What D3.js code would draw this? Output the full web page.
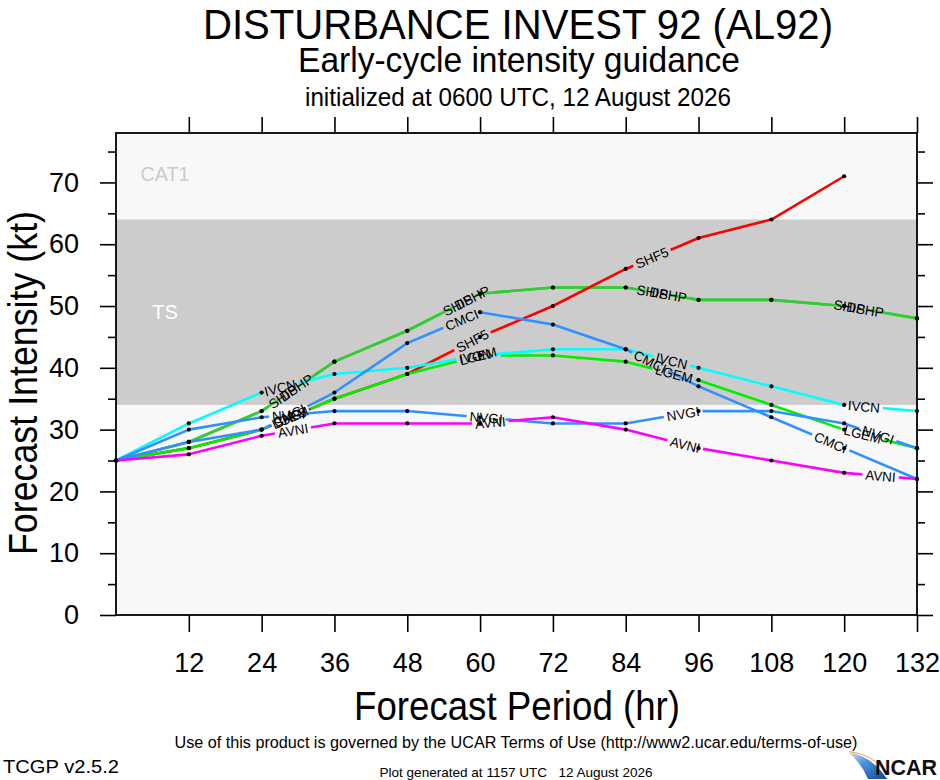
<!DOCTYPE html>
<html>
<head>
<meta charset="utf-8">
<script src="https://cdn.jsdelivr.net/npm/d3@7"></script>
<style>
  html, body { margin: 0; padding: 0; background: #fff; }
  svg { display: block; font-family: "Liberation Sans", Arial, Helvetica, sans-serif; }
</style>
</head>
<body>
<svg id="chart" width="940" height="780"></svg>
<script>
// forecast hours and model intensities (kt)
const hours = [0, 12, 24, 36, 48, 60, 72, 84, 96, 108, 120, 132];
const models = ["SHIP", "DSHP", "SHF5", "LGEM", "IVCN", "CMCI", "NVGI", "AVNI"];
const shipValues = [25, 28, 33, 41, 46, 52, 53, 53, 51, 51, 50, 48];
const dshpValues = [25, 28, 33, 41, 46, 52, 53, 53, 51, 51, 50, 48];
const shf5Values = [25, 27, 30, 35, 39, 45, 50, 56, 61, 64, 71, null];
const lgemValues = [25, 27, 30, 35, 39, 42, 42, 41, 38, 34, 30, 27];
const ivcnValues = [25, 31, 36, 39, 40, 42, 43, 43, 40, 37, 34, 33];
const cmciValues = [25, 28, 30, 36, 44, 49, 47, 43, 37, 32, 27, 22];
const nvgiValues = [25, 30, 32, 33, 33, 32, 31, 31, 33, 33, 31, 27];
const avniValues = [25, 26, 29, 31, 31, 31, 32, 30, 27, 25, 23, 22];

const xTicks = [12, 24, 36, 48, 60, 72, 84, 96, 108, 120, 132];
const yTicks = [0, 10, 20, 30, 40, 50, 60, 70];
const yMinorTicks = [5, 15, 25, 35, 45, 55, 65, 75];

// intensity bands
const bandNames = ["TS", "CAT1"];
const bandLow = [34, 64];
const bandHigh = [64, 78];

const modelColors = {
    SHIP: "#33cc33", DSHP: "#33cc33", SHF5: "#ff0000", LGEM: "#00ee00",
    IVCN: "#00ffff", CMCI: "#3090ff", NVGI: "#3090ff", AVNI: "#ff00ff"
};
const labelStart = { SHIP: 180, DSHP: 196, SHF5: 180, LGEM: 180, IVCN: 180, CMCI: 180, NVGI: 180, AVNI: 180 };

const seriesValues = [shipValues, dshpValues, shf5Values, lgemValues, ivcnValues, cmciValues, nvgiValues, avniValues];
const series = models.map((name, i) => ({
    name: name,
    points: hours.map((h, j) => ({ h: h, v: seriesValues[i][j] })).filter((d) => d.v !== null)
}));

const svg = d3.select("#chart");
const plotLeft = 116, plotRight = 917, plotTop = 133, plotBottom = 615;

const x = d3.scaleLinear().domain([0, 132]).range([plotLeft, plotRight]);
const y = d3.scaleLinear().domain([0, 78]).range([plotBottom, plotTop]);

// titles
function addText(txt, tx, ty, size, len, opts = {}) {
    let t = svg.append("text")
        .attr("x", tx).attr("y", ty)
        .attr("font-size", size)
        .attr("text-anchor", opts.anchor || "middle")
        .attr("fill", opts.fill || "#000")
        .text(txt);
    if (len) t.attr("textLength", len).attr("lengthAdjust", "spacingAndGlyphs");
    if (opts.weight) t.attr("font-weight", opts.weight);
    return t;
}

addText("DISTURBANCE INVEST 92 (AL92)", 518, 38.5, 43, 630);
addText("Early-cycle intensity guidance", 519, 72, 35, 442);
addText("initialized at 0600 UTC, 12 August 2026", 518, 106, 26, 426);

// plot background and bands
svg.append("rect")
    .attr("x", plotLeft).attr("y", plotTop)
    .attr("width", plotRight - plotLeft).attr("height", plotBottom - plotTop)
    .attr("fill", "#f8f8f8");

svg.selectAll("rect.band")
    .data(bandNames.filter((d) => d === "TS"))
    .join("rect")
    .attr("class", "band")
    .attr("x", plotLeft)
    .attr("y", (d) => y(bandHigh[bandNames.indexOf(d)]))
    .attr("width", plotRight - plotLeft)
    .attr("height", (d) => y(bandLow[bandNames.indexOf(d)]) - y(bandHigh[bandNames.indexOf(d)]))
    .attr("fill", "#cccccc");

addText("TS", 165, y(49) + 7, 20, null, { fill: "#ffffff" });
addText("CAT1", 165, y(71.3) + 7, 20, 49, { fill: "#cccccc" });

// axes
const axisLeft = d3.axisLeft(y).tickValues(yTicks).tickSize(16).tickPadding(21).tickFormat(d3.format("d"));
const axisLeftMinor = d3.axisLeft(y).tickValues(yMinorTicks).tickSize(8).tickFormat("");
const axisRight = d3.axisRight(y).tickValues(yTicks).tickSize(16).tickFormat("");
const axisRightMinor = d3.axisRight(y).tickValues(yMinorTicks).tickSize(8).tickFormat("");
const axisBottom = d3.axisBottom(x).tickValues(xTicks).tickSize(17).tickPadding(21).tickFormat(d3.format("d"));
const axisTop = d3.axisTop(x).tickValues(xTicks).tickSize(16).tickFormat("");

function drawAxis(axis, tx, ty) {
    let g = svg.append("g").attr("transform", `translate(${tx},${ty})`).call(axis);
    g.select(".domain").remove();
    g.selectAll("line").attr("stroke", "#000").attr("stroke-width", 1.6);
    g.selectAll("text").attr("font-size", 27).attr("fill", "#000")
        .attr("font-family", "'Liberation Sans', Arial, Helvetica, sans-serif");
    return g;
}
drawAxis(axisLeft, plotLeft, 0);
drawAxis(axisLeftMinor, plotLeft, 0);
drawAxis(axisRight, plotRight, 0);
drawAxis(axisRightMinor, plotRight, 0);
drawAxis(axisBottom, 0, plotBottom);
drawAxis(axisTop, 0, plotTop);

// axis titles
svg.append("text")
    .attr("transform", `translate(37,${(plotTop + plotBottom) / 2 + 9}) rotate(-90)`)
    .attr("text-anchor", "middle")
    .attr("font-size", 40)
    .attr("textLength", 344).attr("lengthAdjust", "spacingAndGlyphs")
    .text("Forecast Intensity (kt)");
addText("Forecast Period (hr)", 517, 720, 40, 326);

// series lines with gaps for the line labels
const line = d3.line().x((d) => x(d.h)).y((d) => y(d.v));
const defs = svg.append("defs");
const lineLayer = svg.append("g");
const dotLayer = svg.append("g");
const labelLayer = svg.append("g");

const spacing = 198;

series.forEach((s, i) => {
    let pts = s.points.map((d) => [x(d.h), y(d.v)]);
    let cum = [0];
    for (let k = 1; k < pts.length; k++) {
        cum.push(cum[k - 1] + Math.hypot(pts[k][0] - pts[k - 1][0], pts[k][1] - pts[k - 1][1]));
    }
    let total = cum[cum.length - 1];

    let probe = labelLayer.append("text").attr("font-size", 13.5).text(s.name);
    let w = probe.node().getComputedTextLength();
    probe.remove();

    let mask = defs.append("mask")
        .attr("id", "mask-" + i)
        .attr("maskUnits", "userSpaceOnUse")
        .attr("x", 0).attr("y", 0).attr("width", 940).attr("height", 780);
    mask.append("rect").attr("x", 0).attr("y", 0).attr("width", 940).attr("height", 780).attr("fill", "#fff");

    for (let pos = labelStart[s.name]; pos + w / 2 + 4 < total; pos += spacing) {
        let k = 0;
        while (k < cum.length - 2 && cum[k + 1] < pos) k++;
        let t = (pos - cum[k]) / (cum[k + 1] - cum[k]);
        let px = pts[k][0] + t * (pts[k + 1][0] - pts[k][0]);
        let py = pts[k][1] + t * (pts[k + 1][1] - pts[k][1]);
        let ang = Math.atan2(pts[k + 1][1] - pts[k][1], pts[k + 1][0] - pts[k][0]) * 180 / Math.PI;

        mask.append("rect")
            .attr("x", -w / 2 - 3).attr("y", -7)
            .attr("width", w + 6).attr("height", 14)
            .attr("fill", "#000")
            .attr("transform", `translate(${px},${py}) rotate(${ang})`);

        labelLayer.append("text")
            .attr("transform", `translate(${px},${py}) rotate(${ang})`)
            .attr("text-anchor", "middle")
            .attr("dy", "0.36em")
            .attr("font-size", 13.5)
            .attr("fill", "#000")
            .text(s.name);
    }

    lineLayer.append("path")
        .datum(s.points)
        .attr("d", line)
        .attr("fill", "none")
        .attr("stroke", modelColors[s.name])
        .attr("stroke-width", 2.6)
        .attr("stroke-linejoin", "round")
        .attr("mask", `url(#mask-${i})`);

    dotLayer.selectAll(null)
        .data(s.points)
        .join("circle")
        .attr("cx", (d) => x(d.h))
        .attr("cy", (d) => y(d.v))
        .attr("r", 2.1)
        .attr("fill", "#000");
});

// frame
svg.append("rect")
    .attr("x", plotLeft).attr("y", plotTop)
    .attr("width", plotRight - plotLeft).attr("height", plotBottom - plotTop)
    .attr("fill", "none").attr("stroke", "#000").attr("stroke-width", 1.8);

// footer
addText("Use of this product is governed by the UCAR Terms of Use (http://www2.ucar.edu/terms-of-use)", 516, 748, 16, 683);
addText("TCGP v2.5.2", 3, 773, 19, 116, { anchor: "start" });
addText("Plot generated at 1157 UTC   12 August 2026", 516, 777, 13, 273).style("white-space", "pre");

// NCAR logo
const grad = defs.append("linearGradient").attr("id", "ncarGrad")
    .attr("x1", "0").attr("y1", "0").attr("x2", "1").attr("y2", "1");
grad.append("stop").attr("offset", "0").attr("stop-color", "#dce9f7");
grad.append("stop").attr("offset", "0.4").attr("stop-color", "#4f93d8");
grad.append("stop").attr("offset", "1").attr("stop-color", "#0a4a9a");
svg.append("path")
    .attr("d", "M848,752 Q872,756 887,779 L868,779 Q862,764 848,752 Z")
    .attr("fill", "url(#ncarGrad)");
svg.append("path")
    .attr("d", "M849,751.5 Q872,754 886,772")
    .attr("fill", "none").attr("stroke", "#f0a040").attr("stroke-width", 1);
addText("NCAR", 906, 775, 22, 62, { weight: "bold", fill: "#111" });
</script>
</body>
</html>
